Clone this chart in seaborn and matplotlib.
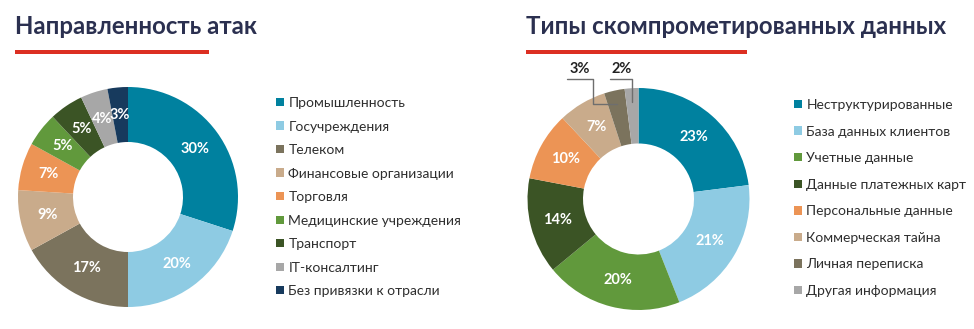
import matplotlib
matplotlib.use("Agg")
import matplotlib.pyplot as plt
import seaborn as sns
import numpy as np
from matplotlib.patches import Patch, Rectangle
from matplotlib.lines import Line2D

sns.set_theme(style="white")
plt.rcParams['font.family'] = ['Lato', 'DejaVu Sans']

# ---------------- data ----------------
attack_title = "Направленность атак"
attack_categories = ["Промышленность", "Госучреждения", "Телеком",
                     "Финансовые организации", "Торговля",
                     "Медицинские учреждения", "Транспорт",
                     "IT-консалтинг", "Без привязки к отрасли"]
attack_values = [30, 20, 17, 9, 7, 5, 5, 4, 3]

data_title = "Типы скомпрометированных данных"
data_categories = ["Неструктурированные", "База данных клиентов",
                   "Учетные данные", "Данные платежных карт",
                   "Персональные данные", "Коммерческая тайна",
                   "Личная переписка", "Другая информация"]
data_values = [23, 21, 20, 14, 10, 7, 3, 2]

# ---------------- styles ----------------
TEAL, LBLUE, TAUPE, TAN = "#00819f", "#8ecbe3", "#7b735d", "#c9ab8b"
ORANGE, GREEN, DGREEN, GREY, NAVY = "#ec9455", "#61993c", "#3b5425", "#a7a7a7", "#173a5d"
attack_colors = sns.color_palette([TEAL, LBLUE, TAUPE, TAN, ORANGE, GREEN, DGREEN, GREY, NAVY])
data_colors = sns.color_palette([TEAL, LBLUE, GREEN, DGREEN, ORANGE, TAN, TAUPE, GREY])

TITLE_COLOR = "#2b3050"
RED = "#dc2f22"
TEXT = "#2e2e2e"

W, H = 974, 329
fig = plt.figure(figsize=(W / 100, H / 100), dpi=100)


def px_axes(cx, cy, r):
    return fig.add_axes([(cx - r) / W, 1 - (cy + r) / H, 2 * r / W, 2 * r / H])


def donut(ax, values, colors, small=0):
    wedges, texts, autotexts = ax.pie(
        values, colors=colors, startangle=90, counterclock=False, radius=1,
        wedgeprops=dict(width=0.5, linewidth=0),
        autopct=lambda p: f"{p:.0f}%" if p > small else "",
        pctdistance=0.75,
        textprops=dict(color="white", fontsize=10.5, fontweight="bold"))
    ax.set_xlim(-1, 1)
    ax.set_ylim(-1, 1)
    ax.set_aspect("equal")
    ax.axis("off")
    return wedges


def legend(ax, cats, colors, x, y, spacing):
    handles = [Patch(facecolor=c, edgecolor="none") for c in colors]
    leg = ax.legend(handles, cats, loc="upper left",
                    bbox_to_anchor=(x / W, 1 - y / H), bbox_transform=fig.transFigure,
                    frameon=False, fontsize=10, handlelength=0.55, handleheight=0.55,
                    handletextpad=0.35, labelspacing=spacing, borderpad=0, borderaxespad=0)
    for t in leg.get_texts():
        t.set_color(TEXT)


def header(text, x, y, line_end):
    fig.text(x / W, 1 - y / H, text, fontsize=17.3, fontweight="bold",
             color=TITLE_COLOR, va="center", ha="left")
    fig.add_artist(Rectangle((x / W, 1 - 54 / H), (line_end - x) / W, 4 / H,
                             transform=fig.transFigure, color=RED, linewidth=0))


# ---------------- left chart ----------------
header(attack_title, 15, 27, 209)
axL = px_axes(128, 197, 110)
donut(axL, attack_values, attack_colors)
legend(axL, attack_categories, attack_colors, 276, 97, 0.83)

# ---------------- right chart ----------------
header(data_title, 526, 27, 747)
axR = px_axes(638.5, 199, 111)
wedges = donut(axR, data_values, data_colors, small=5)
legend(axR, data_categories, data_colors, 794, 99, 1.05)

# annotations for small slices with elbow leader lines
small_idx = [i for i, v in enumerate(data_values) if v <= 5]
label_y = 1.08
offsets = {small_idx[0]: (-0.53, -0.41), small_idx[1]: (-0.15, None)}
for i in small_idx:
    w = wedges[i]
    mid = np.deg2rad((w.theta1 + w.theta2) / 2)
    px, py = 0.88 * np.cos(mid), 0.88 * np.sin(mid)
    cx, elbow = offsets[i]
    if elbow is None:
        elbow = px
    xs = [cx - 0.11, elbow, elbow, px]
    ys = [label_y, label_y, py, py]
    axR.add_line(Line2D(xs, ys, color="#6e6e6e", linewidth=1, clip_on=False))
    axR.text(cx, label_y + 0.03, f"{data_values[i]}%", ha="center", va="bottom",
             fontsize=10.5, fontweight="bold", color="#222222", clip_on=False)

fig.savefig("out.png", dpi=100)
